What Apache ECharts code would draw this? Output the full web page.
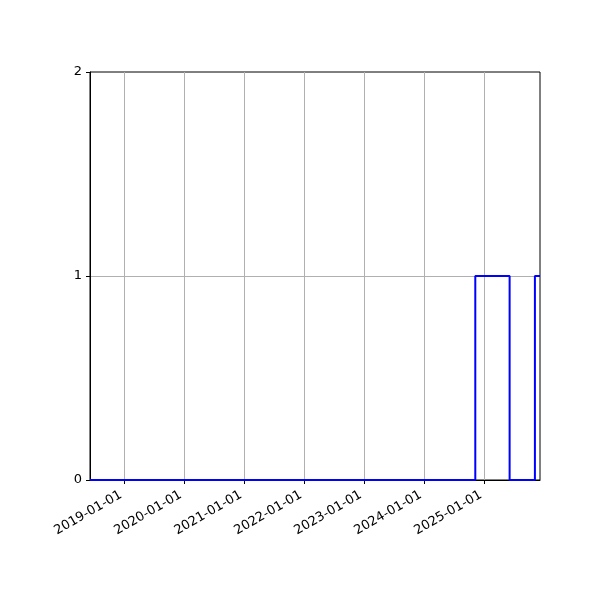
<!DOCTYPE html>
<html>
<head>
<meta charset="utf-8">
<script src="https://cdn.jsdelivr.net/npm/echarts@6/dist/echarts.min.js"></script>
<style>
  html, body { margin: 0; padding: 0; background: #fff; }
  #chart { width: 600px; height: 600px; }
</style>
</head>
<body>
<div id="chart"></div>
<script>
// step points: value holds from this date onward
const stepDates = ["2018-06-06", "2024-11-07", "2025-06-04", "2025-11-05", "2025-12-06"];
const stepValues = [0, 1, 0, 1, 1];
const xTickLabels = ["2019-01-01", "2020-01-01", "2021-01-01", "2022-01-01", "2023-01-01", "2024-01-01", "2025-01-01"];

const xMin = new Date(stepDates[0]).getTime();
const xMax = new Date(stepDates[stepDates.length - 1]).getTime();
const tickTimes = xTickLabels.map(d => new Date(d).getTime());
const lineData = stepDates.map((d, i) => [new Date(d).getTime(), stepValues[i]]);

const pad = n => (n < 10 ? "0" : "") + n;
const fmtDate = v => {
  const d = new Date(v);
  return d.getUTCFullYear() + "-" + pad(d.getUTCMonth() + 1) + "-" + pad(d.getUTCDate());
};

const chart = echarts.init(document.getElementById("chart"));
chart.setOption({
  animation: false,
  textStyle: { fontFamily: "DejaVu Sans" },
  grid: {
    left: 90, right: 60, top: 72, bottom: 120,
    show: true, borderColor: "#000", borderWidth: 1, backgroundColor: "transparent"
  },
  xAxis: {
    type: "value",
    min: xMin,
    max: xMax,
    axisLine: { show: true, lineStyle: { color: "#000", width: 1 } },
    axisTick: { show: true, customValues: tickTimes, length: 4, lineStyle: { color: "#000" } },
    axisLabel: {
      customValues: tickTimes,
      formatter: v => fmtDate(v),
      rotate: 30,
      color: "#000",
      fontSize: 13,
      margin: 12,
      padding: [0, 4, 0, 0]
    },
    splitLine: { show: true, customValues: tickTimes, lineStyle: { color: "#b0b0b0", width: 1 } }
  },
  yAxis: {
    type: "value",
    min: 0,
    max: 2,
    interval: 1,
    axisLine: { show: true, lineStyle: { color: "#000", width: 1 } },
    axisTick: { show: true, length: 4, lineStyle: { color: "#000" } },
    axisLabel: { color: "#000", fontSize: 13, margin: 8, formatter: v => String(v) },
    splitLine: { show: true, showMinLine: false, showMaxLine: false, lineStyle: { color: "#b0b0b0", width: 1 } }
  },
  series: [{
    type: "line",
    step: "end",
    data: lineData,
    showSymbol: false,
    lineStyle: { color: "#0000ff", width: 2 },
    itemStyle: { color: "#0000ff" }
  }]
});
</script>
</body>
</html>
